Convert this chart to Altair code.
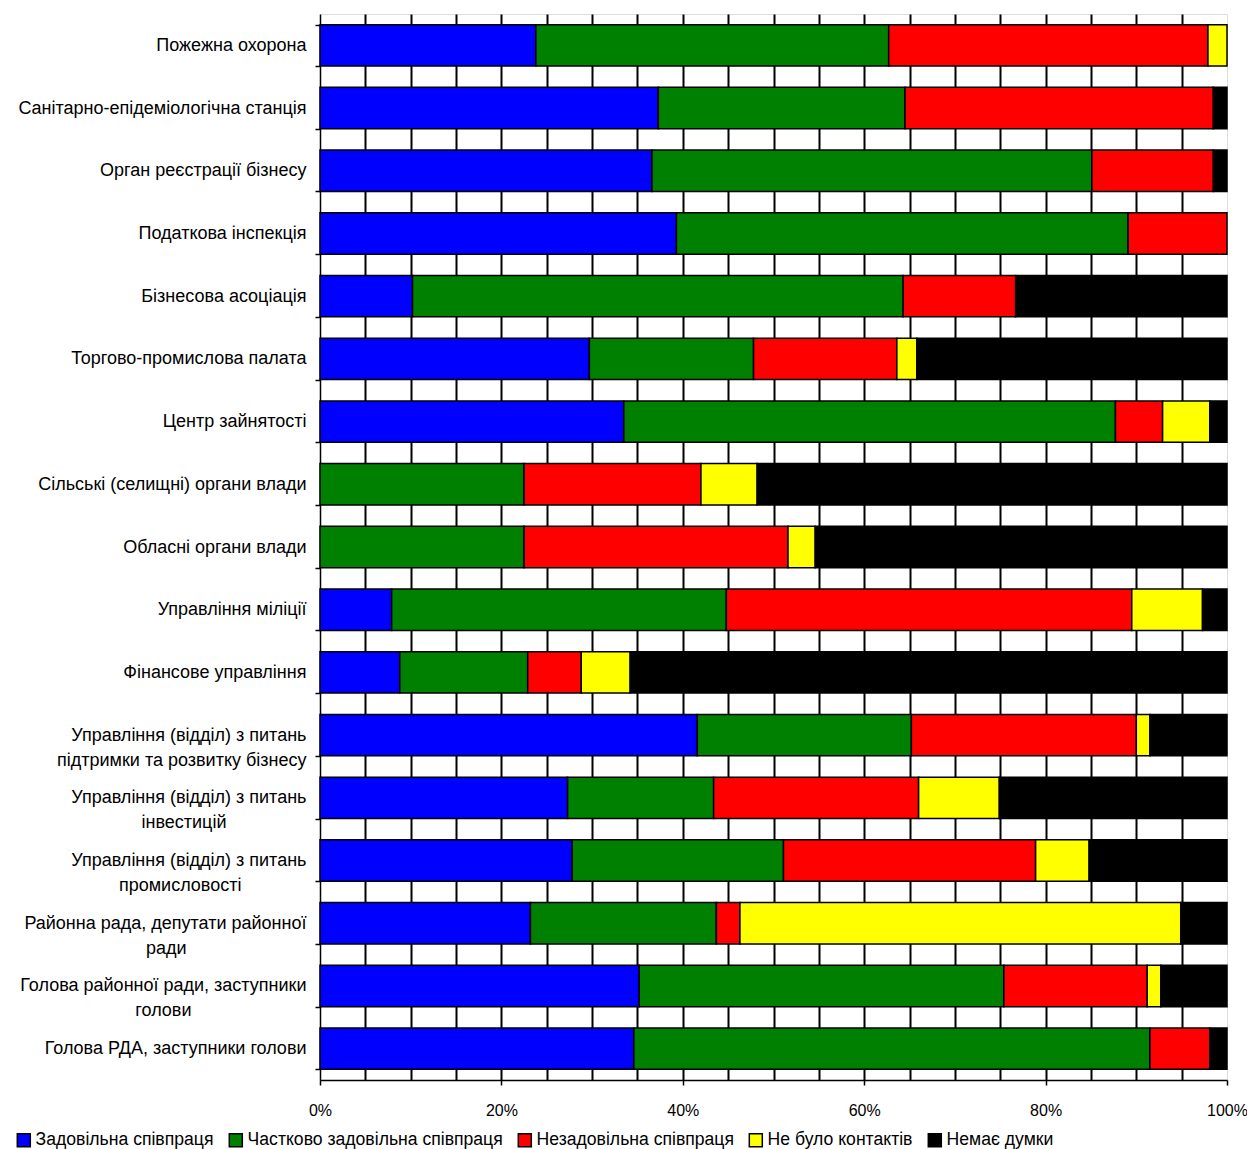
import altair as alt
import pandas as pd

categories = [
    "Пожежна охорона",
    "Санітарно-епідеміологічна станція",
    "Орган реєстрації бізнесу",
    "Податкова інспекція",
    "Бізнесова асоціація",
    "Торгово-промислова палата",
    "Центр зайнятості",
    "Сільські (селищні) органи влади",
    "Обласні органи влади",
    "Управління міліції",
    "Фінансове управління",
    "Управління (відділ) з питань|підтримки та розвитку бізнесу",
    "Управління (відділ) з питань|інвестицій",
    "Управління (відділ) з питань|промисловості",
    "Районна рада, депутати районної|ради",
    "Голова районної ради, заступники|голови",
    "Голова РДА, заступники голови",
]

series = [
    "Задовільна співпраця",
    "Частково задовільна співпраця",
    "Незадовільна співпраця",
    "Не було контактів",
    "Немає думки",
]

satisfied = [23.8, 37.3, 36.6, 39.3, 10.2, 29.7, 33.5, 0.0, 0.0, 7.9, 8.8, 41.6, 27.3, 27.8, 23.2, 35.2, 34.6]
partly    = [38.9, 27.2, 48.5, 49.8, 54.1, 18.1, 54.2, 22.5, 22.5, 36.9, 14.1, 23.6, 16.1, 23.3, 20.5, 40.2, 56.9]
unsatisf  = [35.2, 34.0, 13.4, 10.9, 12.4, 15.8, 5.2, 19.5, 29.1, 44.7, 5.9, 24.8, 22.6, 27.8, 2.6, 15.8, 6.6]
no_contact = [2.1, 0.0, 0.0, 0.0, 0.0, 2.2, 5.2, 6.2, 3.0, 7.8, 5.4, 1.5, 8.9, 5.9, 48.6, 1.5, 0.0]
no_opinion = [0.0, 1.5, 1.5, 0.0, 23.3, 34.2, 1.9, 51.8, 45.4, 2.7, 65.8, 8.5, 25.1, 15.2, 5.1, 7.3, 1.9]

colors = ["#0000FF", "#008000", "#FF0000", "#FFFF00", "#000000"]

rows = []
for k, vals in enumerate([satisfied, partly, unsatisf, no_contact, no_opinion]):
    for c, v in zip(categories, vals):
        if v > 0:
            rows.append({"cat": c, "series": series[k], "k": k, "value": v})
df = pd.DataFrame(rows)

FONT = "Liberation Sans"
NB = "\u00a0"   # no-break space
ZW = "\u200b"   # zero-width space (keeps the padding from being trimmed)

# two-line labels: second line roughly centred under the first
L0 = "split(datum.label, '|')[0]"
L1 = "split(datum.label, '|')[1]"
label_expr = (
    "indexof(datum.label, '|') < 0 ? datum.label : "
    f"[{L0}, '{ZW}' + pad({L1}, length({L1}) + max(0, round((length({L0}) - length({L1})) * 0.88)), '{NB}') + '{ZW}']"
)

chart = alt.Chart(df).mark_bar(stroke="black", strokeWidth=1.5).encode(
    y=alt.Y(
        "cat:N",
        sort=categories,
        title=None,
        scale=alt.Scale(paddingInner=0.34, paddingOuter=0.17),
        axis=alt.Axis(
            labelExpr=label_expr,
            labelFont=FONT,
            labelFontSize=18,
            labelColor="black",
            labelLineHeight=25,
            labelPadding=9,
            labelLimit=400,
            tickBand="extent",
            tickSize=5,
            tickColor="black",
            tickWidth=1.5,
            domainColor="black",
            domainWidth=1.5,
            grid=False,
        ),
    ),
    x=alt.X(
        "value:Q",
        stack="zero",
        title=None,
        scale=alt.Scale(domain=[0, 100], nice=False),
        axis=alt.Axis(
            values=list(range(0, 101, 5)),
            labelExpr="datum.value % 20 == 0 ? datum.value + '%' : ''",
            labelFont=FONT,
            labelFontSize=16,
            labelColor="black",
            labelPadding=17,
            labelFlush=False,
            tickSize=5,
            tickColor="black",
            tickWidth=1.5,
            tickOpacity={"condition": {"test": "datum.value % 20 == 0", "value": 1}, "value": 0},
            domainColor="black",
            domainWidth=1.5,
            grid=True,
            gridColor="black",
            gridWidth=2,
            gridOpacity={"condition": {"test": "datum.value > 0 && datum.value < 100", "value": 1}, "value": 0},
        ),
    ),
    color=alt.Color(
        "series:N",
        sort=series,
        scale=alt.Scale(domain=series, range=colors),
        legend=alt.Legend(
            title=None,
            orient="none",
            legendX=-305,
            legendY=1117,
            direction="horizontal",
            columns=5,
            symbolType="square",
            symbolSize=169,
            symbolStrokeColor="black",
            symbolStrokeWidth=1.5,
            labelFont=FONT,
            labelFontSize=17.6,
            labelColor="black",
            labelOffset=3,
            columnPadding=12,
            labelLimit=400,
        ),
    ),
    order=alt.Order("k:Q"),
).properties(
    width=907,
    height=1066,
    autosize=alt.AutoSizeParams(type="none"),
    padding={"left": 312, "top": 6, "right": 20, "bottom": 69},
).configure_view(stroke=None).configure(background="white")

chart.save("out.html", embed_options={"renderer": "svg", "actions": False})
